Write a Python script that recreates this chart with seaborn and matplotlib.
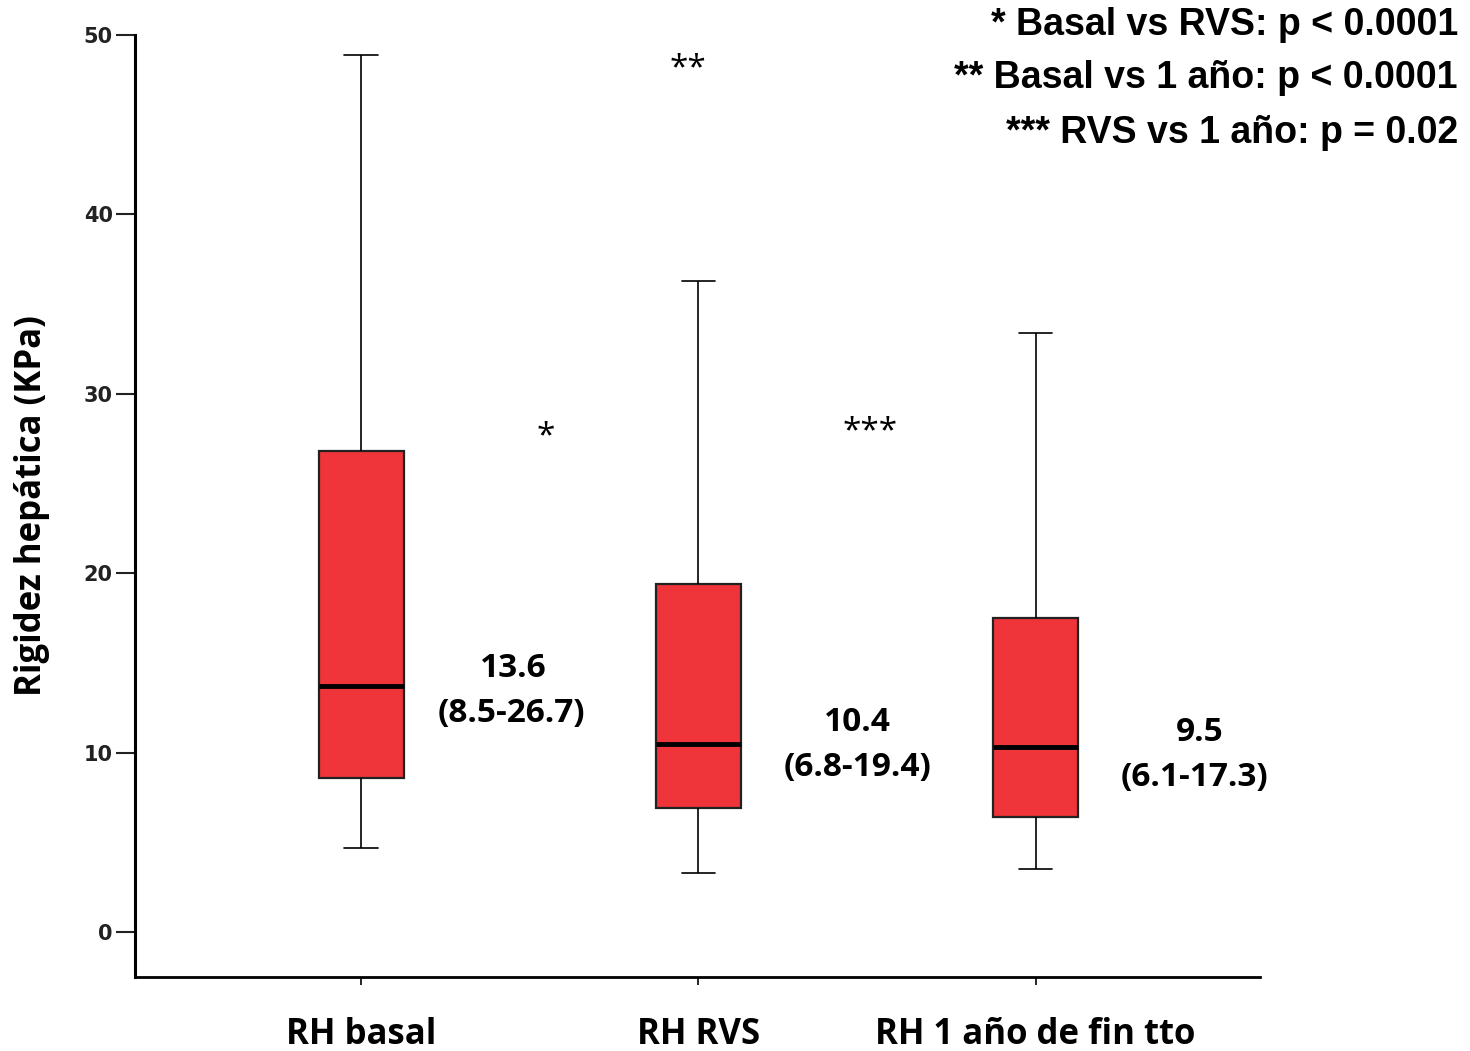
import matplotlib
matplotlib.use("Agg")
import matplotlib.pyplot as plt
import seaborn as sns
import pandas as pd

# ---- data ----
groups = ["RH basal", "RH RVS", "RH 1 año de fin tto"]
whisker_low = [4.7, 3.3, 3.5]
q1 = [8.6, 6.9, 6.4]
median = [13.7, 10.5, 10.3]
q3 = [26.8, 19.4, 17.5]
whisker_high = [48.9, 36.3, 33.4]

median_labels = ["13.6", "10.4", "9.5"]
iqr_labels = ["(8.5-26.7)", "(6.8-19.4)", "(6.1-17.3)"]
star_labels = ["*", "**", "***"]
legend_lines = ["* Basal vs RVS: p < 0.0001",
                "** Basal vs 1 año: p < 0.0001",
                "*** RVS vs 1 año: p = 0.02"]
y_ticks = [0, 10, 20, 30, 40, 50]

# five values per group -> exact quartiles with linear interpolation
rows = []
for g, a, b, c, d, e in zip(groups, whisker_low, q1, median, q3, whisker_high):
    for v in (a, b, c, d, e):
        rows.append({"grupo": g, "valor": v})
df = pd.DataFrame(rows)

sns.set_style("white")
plt.rcParams["font.family"] = ["Open Sans", "DejaVu Sans"]
plt.rcParams["text.color"] = "black"
plt.rcParams["axes.labelcolor"] = "black"
plt.rcParams["xtick.color"] = "black"
plt.rcParams["ytick.color"] = "black"

fig = plt.figure(figsize=(14.7, 10.51), dpi=100)
ax = fig.add_axes([135 / 1470, 1 - 977 / 1051, (1260 - 135) / 1470, (977 - 35) / 1051])

sns.boxplot(data=df, x="grupo", y="valor", order=groups, ax=ax,
            whis=(0, 100), width=0.252, color="#EF343A", saturation=1,
            linecolor="black", linewidth=1.2,
            boxprops=dict(edgecolor="#222222", linewidth=1.6),
            medianprops=dict(color="black", linewidth=3.5),
            whiskerprops=dict(color="black", linewidth=1.2),
            capprops=dict(color="black", linewidth=1.2),
            capwidths=0.098)

ax.set_xlim(-0.67, 2.665)
ax.set_ylim(-2.5, 50)
ax.set_yticks(y_ticks)
ax.set_yticklabels([str(t) for t in y_ticks], fontfamily="DejaVu Sans",
                   fontweight="bold", fontsize=15, color="#222222")
ax.set_xticks(range(len(groups)))
ax.set_xticklabels(groups, fontweight="bold", fontsize=25)
ax.tick_params(axis="y", direction="out", length=14, width=1.5, color="#222222", pad=2, left=True)
ax.tick_params(axis="x", direction="out", length=6, width=1.2, color="black", pad=23, bottom=True)
ax.set_xlabel("")
ax.set_ylabel("Rigidez hepática (KPa)", fontweight="bold", fontsize=25, labelpad=24)

for side in ("top", "right"):
    ax.spines[side].set_visible(False)
ax.spines["left"].set_linewidth(2.2)
ax.spines["bottom"].set_linewidth(2.0)
ax.spines["left"].set_color("black")
ax.spines["bottom"].set_color("black")

for l in ax.lines:
    l.set_clip_on(False)

# median / IQR annotations
med_pos = [(0.45, 14.7), (1.473, 11.7), (2.486, 11.15)]
iqr_pos = [(0.447, 12.2), (1.473, 9.2), (2.471, 8.64)]
for (x, y), t in zip(med_pos, median_labels):
    ax.text(x, y, t, ha="center", va="center", fontsize=24, fontweight="bold")
for (x, y), t in zip(iqr_pos, iqr_labels):
    ax.text(x, y, t, ha="center", va="center", fontsize=24, fontweight="bold")

star_pos = [(0.548, 27.6), (0.969, 48.1), (1.508, 27.9)]
for (x, y), t in zip(star_pos, star_labels):
    ax.text(x, y, t, ha="center", va="center", fontsize=24, clip_on=False)

# legend text (top right)
for yy, t in zip([25, 78, 133], legend_lines):
    fig.text(1458 / 1470, 1 - yy / 1051, t, ha="right", va="center",
             fontfamily="Liberation Sans", fontweight="bold", fontsize=27)

fig.savefig("out.png", dpi=100)
